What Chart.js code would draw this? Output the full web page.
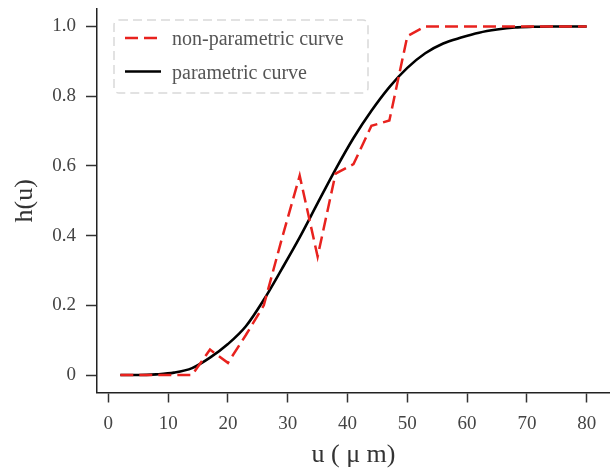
<!DOCTYPE html>
<html>
<head>
<meta charset="utf-8">
<script src="https://cdn.jsdelivr.net/npm/chart.js@4"></script>
<style>
  html, body { margin: 0; padding: 0; background: #fff; overflow: hidden; }
  #wrap { width: 610px; height: 471px; }
</style>
</head>
<body>
<div id="wrap"><canvas id="myChart"></canvas></div>
<script>
// u positions (µm) of the sampled curves
const uValues = [2, 5, 8, 11, 14, 17, 20, 23, 26, 29, 32, 35, 38, 41, 44, 47, 50, 53, 56, 59, 62, 65, 68, 71, 74, 77, 80];
const nonParametric = [0, 0, 0, 0, 0, 0.073, 0.035, 0.115, 0.2, 0.39, 0.572, 0.34, 0.578, 0.605, 0.715, 0.73, 0.972, 1, 1, 1, 1, 1, 1, 1, 1, 1, 1];
const parametric = [0, 0, 0.002, 0.007, 0.02, 0.05, 0.089, 0.14, 0.216, 0.304, 0.395, 0.493, 0.59, 0.68, 0.758, 0.826, 0.881, 0.923, 0.951, 0.968, 0.982, 0.991, 0.997, 0.999, 1, 1, 1];
const xTicks = [0, 10, 20, 30, 40, 50, 60, 70, 80];
const yTicks = [0, 0.2, 0.4, 0.6, 0.8, 1.0];
const yTickLabels = ['0', '0.2', '0.4', '0.6', '0.8', '1.0'];

const serif = '"Liberation Serif", "DejaVu Serif", serif';

// legend drawn in the style of the original (dashed rounded frame)
const boxLegend = {
    id: 'boxLegend',
    afterDatasetsDraw(chart) {
        const ctx = chart.ctx;
        ctx.save();
        ctx.beginPath();
        ctx.roundRect(114, 20, 254, 73, 5);
        ctx.fillStyle = 'rgba(255,255,255,0.8)';
        ctx.fill();
        ctx.setLineDash([9, 5]);
        ctx.strokeStyle = '#d9d9d9';
        ctx.lineWidth = 1.5;
        ctx.stroke();

        const rows = [38, 71.5];
        chart.data.datasets.forEach((ds, i) => {
            const y = rows[i];
            ctx.beginPath();
            ctx.setLineDash(ds.borderDash || []);
            ctx.strokeStyle = ds.borderColor;
            ctx.lineWidth = ds.borderWidth;
            ctx.moveTo(125, y);
            ctx.lineTo(161, y);
            ctx.stroke();
            ctx.setLineDash([]);
            ctx.fillStyle = '#555';
            ctx.font = '20px ' + serif;
            ctx.textBaseline = 'alphabetic';
            ctx.fillText(ds.label, 172, y + 7);
        });
        ctx.restore();
    }
};

const ctx = document.getElementById('myChart');

new Chart(ctx, {
    type: 'line',
    data: {
        datasets: [{
            label: 'non-parametric curve',
            data: uValues.map((u, i) => ({ x: u, y: nonParametric[i] })),
            borderColor: '#e8221e',
            borderWidth: 2.5,
            borderDash: [13, 6],
            pointRadius: 0,
            tension: 0
        }, {
            label: 'parametric curve',
            data: uValues.map((u, i) => ({ x: u, y: parametric[i] })),
            borderColor: '#000000',
            borderWidth: 2.6,
            pointRadius: 0,
            cubicInterpolationMode: 'monotone'
        }]
    },
    options: {
        responsive: true,
        maintainAspectRatio: false,
        animation: false,
        devicePixelRatio: 1,
        layout: { padding: { top: 9, right: 0, left: 0, bottom: 0 } },
        plugins: {
            legend: { display: false },
            tooltip: { enabled: false }
        },
        scales: {
            x: {
                type: 'linear',
                min: -1.9,
                max: 83.9,
                afterBuildTicks: (scale) => { scale.ticks = xTicks.map(v => ({ value: v })); },
                afterFit: (scale) => {
                    scale.height = 78.5;
                    scale.paddingLeft = 0;
                    scale.paddingRight = 0;
                },
                ticks: {
                    color: '#444',
                    padding: 10,
                    maxRotation: 0,
                    font: { family: serif, size: 19 }
                },
                grid: {
                    drawOnChartArea: false,
                    drawTicks: true,
                    tickLength: 10,
                    tickColor: '#333',
                    tickWidth: 1.5
                },
                border: { display: true, color: '#222', width: 1.5 },
                title: {
                    display: true,
                    text: 'u ( μ m)',
                    color: '#333',
                    font: { family: serif, size: 26 },
                    padding: { top: 0, bottom: 0 }
                }
            },
            y: {
                min: -0.05,
                max: 1.05,
                afterBuildTicks: (scale) => { scale.ticks = yTicks.map(v => ({ value: v })); },
                afterFit: (scale) => {
                    scale.width = 97;
                    scale.paddingTop = 0;
                    scale.paddingBottom = 0;
                },
                ticks: {
                    color: '#444',
                    padding: 10,
                    font: { family: serif, size: 19 },
                    callback: (value) => yTickLabels[yTicks.indexOf(value)]
                },
                grid: {
                    drawOnChartArea: false,
                    drawTicks: true,
                    tickLength: 11,
                    tickColor: '#333',
                    tickWidth: 1.5
                },
                border: { display: true, color: '#222', width: 1.5 },
                title: {
                    display: true,
                    text: 'h(u)',
                    color: '#333',
                    font: { family: serif, size: 26 },
                    padding: { top: 10, bottom: 0 }
                }
            }
        }
    },
    plugins: [boxLegend]
});
</script>
</body>
</html>
